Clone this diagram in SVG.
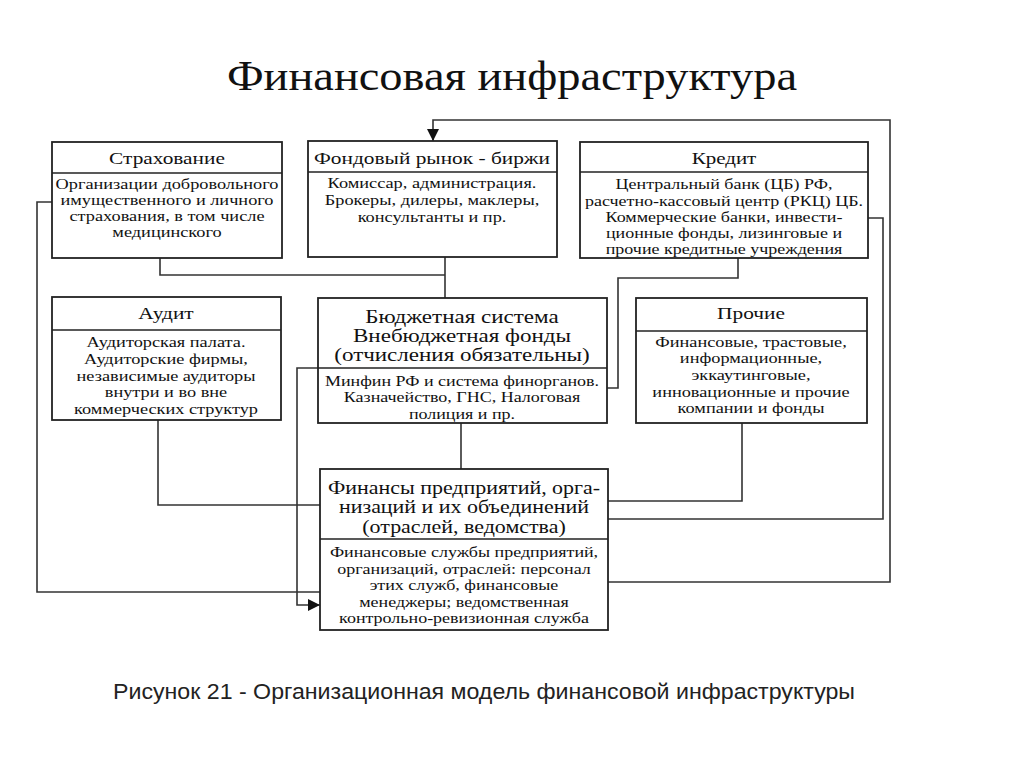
<svg xmlns="http://www.w3.org/2000/svg" width="1024" height="767" viewBox="0 0 1024 767">
<defs>
<style>
.box{fill:#fff;stroke:#222;stroke-width:1.8}
.div{stroke:#222;stroke-width:1.5}
.ln{fill:none;stroke:#333;stroke-width:1.6}
.h{font-family:"Liberation Serif","Times New Roman",serif;font-size:17.5px;fill:#111;text-anchor:middle}
.h2{font-family:"Liberation Serif","Times New Roman",serif;font-size:18px;fill:#111;text-anchor:middle}
.b{font-family:"Liberation Serif","Times New Roman",serif;font-size:15px;fill:#111;text-anchor:middle}
</style>
<marker id="arrL" viewBox="0 0 10 10" refX="10" refY="5" markerWidth="12" markerHeight="12" markerUnits="userSpaceOnUse" orient="auto">
<path d="M0,0 L10,5 L0,10 z" fill="#111"/>
</marker>
</defs>
<rect width="1024" height="767" fill="#fff"/>
<g transform="translate(512 0) scale(1.08 1)">
<text x="0" y="90" font-family="Liberation Serif,'Times New Roman',serif" font-size="43" text-anchor="middle" fill="#111">Финансовая инфраструктура</text>
</g>

<g id="connectors">
<polyline class="ln" points="160,258 160,275 445,275"/>
<line class="ln" x1="445" y1="257" x2="445" y2="298"/>
<polyline class="ln" points="738,258 738,278 618,278 618,388 607,388"/>
<polyline class="ln" points="868,218 883,218 883,519 608,519"/>
<polyline class="ln" points="608,582 890,582 890,120 433,120 433,141" marker-end="url(#arrL)"/>
<polyline class="ln" points="742,423 742,501 608,501"/>
<polyline class="ln" points="52,202 37,202 37,592 320,592"/>
<polyline class="ln" points="158,420 158,505 320,505"/>
<polyline class="ln" points="318,368 297,368 297,605 320,605" marker-end="url(#arrL)"/>
<line class="ln" x1="461" y1="423" x2="461" y2="469"/>
</g>

<g id="strakhovanie">
<rect class="box" x="52" y="142" width="230" height="116"/>
<line class="div" x1="52" y1="173" x2="282" y2="173"/>
<g transform="translate(167 0) scale(1.22 1)">
<text class="h" x="0" y="164">Страхование</text>
<text class="b" x="0" y="189">Организации добровольного</text>
<text class="b" x="0" y="205">имущественного и личного</text>
<text class="b" x="0" y="221">страхования, в том числе</text>
<text class="b" x="0" y="237">медицинского</text>
</g>
</g>

<g id="fondovy">
<rect class="box" x="308" y="141" width="249" height="116"/>
<line class="div" x1="308" y1="172" x2="557" y2="172"/>
<g transform="translate(432 0) scale(1.22 1)">
<text class="h" x="0" y="164">Фондовый рынок - биржи</text>
<text class="b" x="0" y="188">Комиссар, администрация.</text>
<text class="b" x="0" y="205">Брокеры, дилеры, маклеры,</text>
<text class="b" x="0" y="222">консультанты и пр.</text>
</g>
</g>

<g id="kredit">
<rect class="box" x="580" y="142" width="288" height="116"/>
<line class="div" x1="580" y1="172" x2="868" y2="172"/>
<g transform="translate(724 0) scale(1.2 1)">
<text class="h" x="0" y="164">Кредит</text>
<text class="b" x="0" y="189">Центральный банк (ЦБ) РФ,</text>
<text class="b" x="0" y="206">расчетно-кассовый центр (РКЦ) ЦБ.</text>
<text class="b" x="0" y="222">Коммерческие банки, инвести-</text>
<text class="b" x="0" y="238">ционные фонды, лизинговые и</text>
<text class="b" x="0" y="254">прочие кредитные учреждения</text>
</g>
</g>

<g id="audit">
<rect class="box" x="52" y="297" width="229" height="123"/>
<line class="div" x1="52" y1="330" x2="281" y2="330"/>
<g transform="translate(166 0) scale(1.22 1)">
<text class="h" x="0" y="319">Аудит</text>
<text class="b" x="0" y="347">Аудиторская палата.</text>
<text class="b" x="0" y="364">Аудиторские фирмы,</text>
<text class="b" x="0" y="381">независимые аудиторы</text>
<text class="b" x="0" y="397">внутри и во вне</text>
<text class="b" x="0" y="414">коммерческих структур</text>
</g>
</g>

<g id="byudzhet">
<rect class="box" x="318" y="298" width="289" height="125"/>
<line class="div" x1="318" y1="368" x2="607" y2="368"/>
<g transform="translate(462 0) scale(1.28 1)">
<text class="h2" x="0" y="323">Бюджетная система</text>
<text class="h2" x="0" y="342">Внебюджетная фонды</text>
<text class="h2" x="0" y="361">(отчисления обязательны)</text>
</g>
<g transform="translate(462 0) scale(1.2 1)">
<text class="b" x="0" y="386">Минфин РФ и система финорганов.</text>
<text class="b" x="0" y="402">Казначейство, ГНС, Налоговая</text>
<text class="b" x="0" y="419">полиция и пр.</text>
</g>
</g>

<g id="prochie">
<rect class="box" x="636" y="298" width="231" height="125"/>
<line class="div" x1="636" y1="331" x2="867" y2="331"/>
<g transform="translate(751 0) scale(1.22 1)">
<text class="h" x="0" y="319">Прочие</text>
<text class="b" x="0" y="347">Финансовые, трастовые,</text>
<text class="b" x="0" y="363">информационные,</text>
<text class="b" x="0" y="380">эккаутинговые,</text>
<text class="b" x="0" y="397">инновационные и прочие</text>
<text class="b" x="0" y="413">компании и фонды</text>
</g>
</g>

<g id="finansy">
<rect class="box" x="320" y="469" width="288" height="161"/>
<line class="div" x1="320" y1="539" x2="608" y2="539"/>
<g transform="translate(464 0) scale(1.22 1)">
<text class="h2" x="0" y="494">Финансы предприятий, орга-</text>
<text class="h2" x="0" y="513">низаций и их объединений</text>
<text class="h2" x="0" y="533">(отраслей, ведомства)</text>
</g>
<g transform="translate(464 0) scale(1.2 1)">
<text class="b" x="0" y="557">Финансовые службы предприятий,</text>
<text class="b" x="0" y="574">организаций, отраслей: персонал</text>
<text class="b" x="0" y="590">этих служб, финансовые</text>
<text class="b" x="0" y="607">менеджеры; ведомственная</text>
<text class="b" x="0" y="623">контрольно-ревизионная служба</text>
</g>
</g>

<text x="113" y="699" font-family="Liberation Sans,Arial,sans-serif" font-size="22" fill="#222" textLength="742" lengthAdjust="spacingAndGlyphs">Рисунок  21 - Организационная модель финансовой инфраструктуры</text>
</svg>
